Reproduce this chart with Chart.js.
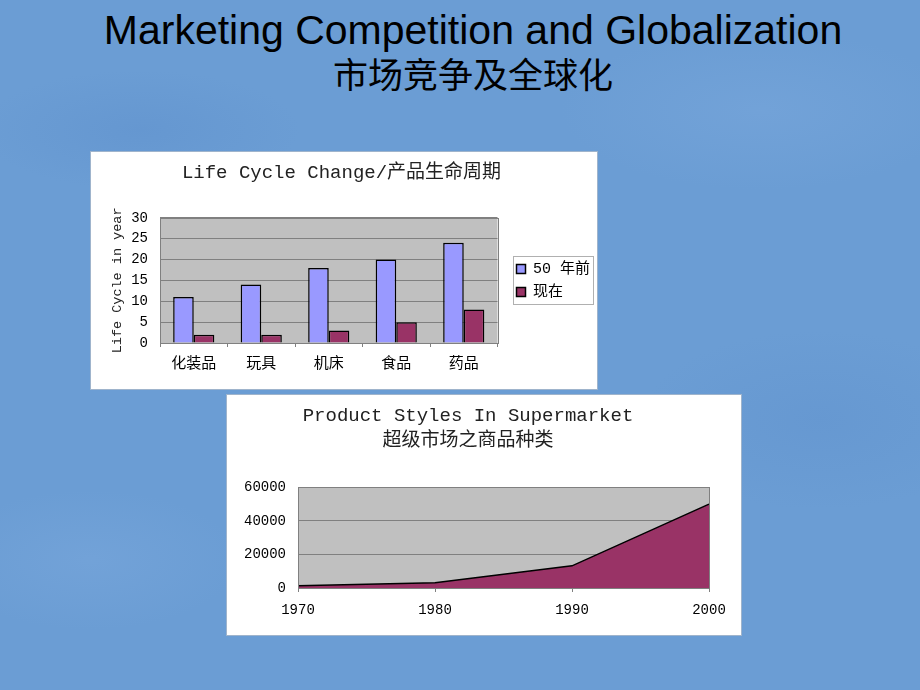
<!DOCTYPE html>
<html>
<head>
<meta charset="utf-8">
<script src="https://cdn.jsdelivr.net/npm/chart.js@4"></script>
<style>
  body {
    margin: 0;
    width: 920px;
    height: 690px;
    overflow: hidden;
    position: relative;
    background-color: #6b9dd4;
    background-image:
      radial-gradient(ellipse 160px 60px at 140px 130px, rgba(95,145,205,0.5), transparent),
      radial-gradient(ellipse 200px 80px at 760px 110px, rgba(125,170,222,0.4), transparent),
      radial-gradient(ellipse 180px 90px at 820px 420px, rgba(95,145,205,0.4), transparent),
      radial-gradient(ellipse 150px 70px at 90px 560px, rgba(125,170,222,0.4), transparent);
  }
  .title {
    position: absolute;
    left: 0;
    width: 946px;
    text-align: center;
    color: #000;
    white-space: nowrap;
  }
  #t1 { top: 10px; font: 41px/1 "Liberation Sans", Arial, sans-serif; }
  #t2 { top: 54px; font: 35px/38px "Noto Sans CJK SC", sans-serif; }
  canvas {
    position: absolute;
    background: #fff;
    outline: 1px solid #9fb4cc;
  }
  #c1 { left: 91px; top: 152px; }
  #c2 { left: 227px; top: 395px; }
</style>
</head>
<body>
<div class="title" id="t1">Marketing Competition and Globalization</div>
<div class="title" id="t2">市场竞争及全球化</div>
<canvas id="c1" width="506" height="237"></canvas>
<canvas id="c2" width="514" height="240"></canvas>
<script>
'use strict';

// chart 1 - life cycle
const lifeCats = ['化装品', '玩具', '机床', '食品', '药品'];
const before50 = [11, 14, 18, 20, 24];
const nowLife = [2, 2, 3, 5, 8];
const lifeMax = 30;
const lifeStep = 5;

// chart 2 - product styles
const years = ['1970', '1980', '1990', '2000'];
const styleCounts = [1400, 3200, 13200, 50000];
const styleMax = 60000;
const styleStep = 20000;

const F = "'Liberation Mono', 'Noto Sans CJK SC', monospace";

// gray plot area + frame
const plotBg = {
  id: 'plotBg',
  beforeDraw(chart) {
    const {ctx, chartArea: a} = chart;
    ctx.save();
    ctx.fillStyle = '#c0c0c0';
    ctx.fillRect(a.left, a.top, a.width, a.height);
    ctx.restore();
  },
  afterDraw(chart) {
    const {ctx, chartArea: a} = chart;
    ctx.save();
    ctx.strokeStyle = '#808080';
    ctx.lineWidth = 1;
    ctx.strokeRect(Math.round(a.left) + 0.5, Math.round(a.top) + 0.5, Math.round(a.width), Math.round(a.height));
    ctx.restore();
  }
};

// border round the legend
const legendBox = {
  id: 'legendBox',
  afterDraw(chart) {
    const boxes = chart.legend && chart.legend.legendHitBoxes;
    if (!boxes || !boxes.length) return;
    let x0 = Infinity, y0 = Infinity, x1 = -Infinity, y1 = -Infinity;
    boxes.forEach(b => {
      x0 = Math.min(x0, b.left); y0 = Math.min(y0, b.top);
      x1 = Math.max(x1, b.left + b.width); y1 = Math.max(y1, b.top + b.height);
    });
    const ctx = chart.ctx;
    ctx.save();
    ctx.strokeStyle = '#b0b0b0';
    ctx.lineWidth = 1;
    ctx.strokeRect(Math.round(x0 - 4) + 0.5, Math.round(y0 - 5) + 0.5, Math.round(x1 - x0 + 6), Math.round(y1 - y0 + 10));
    ctx.restore();
  }
};

new Chart(document.getElementById('c1'), {
  type: 'bar',
  data: {
    labels: lifeCats,
    datasets: [
      {label: '50 年前', data: before50, backgroundColor: '#9999ff', borderColor: '#000', borderWidth: 1.5},
      {label: '现在', data: nowLife, backgroundColor: '#993366', borderColor: '#000', borderWidth: 1.5}
    ]
  },
  options: {
    responsive: false,
    animation: false,
    datasets: {bar: {categoryPercentage: 0.61, barPercentage: 1}},
    layout: {padding: {top: 0, left: 0, right: 5, bottom: 0}},
    plugins: {
      title: {
        display: true,
        text: 'Life Cycle Change/产品生命周期',
        color: '#222',
        font: {family: F, size: 19, weight: 'normal', lineHeight: 1.2},
        padding: {top: 10, bottom: 33}
      },
      legend: {
        position: 'right',
        fullSize: false,
        labels: {color: '#000', font: {family: F, size: 15}, boxWidth: 9, boxHeight: 9, padding: 8}
      },
      tooltip: {enabled: false}
    },
    scales: {
      x: {
        grid: {display: true, drawOnChartArea: false, color: '#808080', tickLength: 4},
        border: {color: '#808080'},
        ticks: {color: '#000', font: {family: F, size: 15}, padding: 8, maxRotation: 0},
        afterFit(s) { s.height = 46; }
      },
      y: {
        min: 0,
        max: lifeMax,
        ticks: {stepSize: lifeStep, color: '#000', font: {family: F, size: 14}, padding: 12},
        grid: {color: '#808080', drawTicks: false},
        border: {color: '#808080'},
        title: {
          display: true,
          text: 'Life Cycle in year',
          color: '#222',
          font: {family: F, size: 13.5},
          padding: {top: 18, bottom: 0}
        },
        afterFit(s) { s.width = 69; }
      },
      gap: {
        position: 'right',
        display: true,
        grid: {display: false},
        border: {display: false},
        ticks: {display: false},
        afterFit(s) { s.width = 11; }
      }
    }
  },
  plugins: [plotBg, legendBox]
});

new Chart(document.getElementById('c2'), {
  type: 'line',
  data: {
    labels: years,
    datasets: [{
      label: '商品种类',
      data: styleCounts,
      fill: 'origin',
      backgroundColor: '#993366',
      borderColor: '#000',
      borderWidth: 1.5,
      pointRadius: 0,
      tension: 0
    }]
  },
  options: {
    responsive: false,
    animation: false,
    layout: {padding: {top: 0, left: 0, right: 32, bottom: 0}},
    plugins: {
      title: {
        display: true,
        text: ['Product Styles In Supermarket', '超级市场之商品种类'],
        color: '#222',
        font: {family: F, size: 19, weight: 'normal', lineHeight: 1.3},
        padding: {top: 9, bottom: 34}
      },
      legend: {display: false},
      tooltip: {enabled: false}
    },
    scales: {
      x: {
        offset: false,
        grid: {display: true, drawOnChartArea: false, color: '#808080', tickLength: 4},
        border: {color: '#808080'},
        ticks: {color: '#000', font: {family: F, size: 14}, padding: 10, maxRotation: 0},
        afterFit(s) { s.height = 47; }
      },
      y: {
        min: 0,
        max: styleMax,
        ticks: {
          stepSize: styleStep,
          color: '#000',
          font: {family: F, size: 14},
          padding: 12,
          callback: v => String(v)
        },
        grid: {color: '#808080', drawTicks: false},
        border: {color: '#808080'},
        afterFit(s) { s.width = 71; }
      }
    }
  },
  plugins: [plotBg]
});
</script>
</body>
</html>
